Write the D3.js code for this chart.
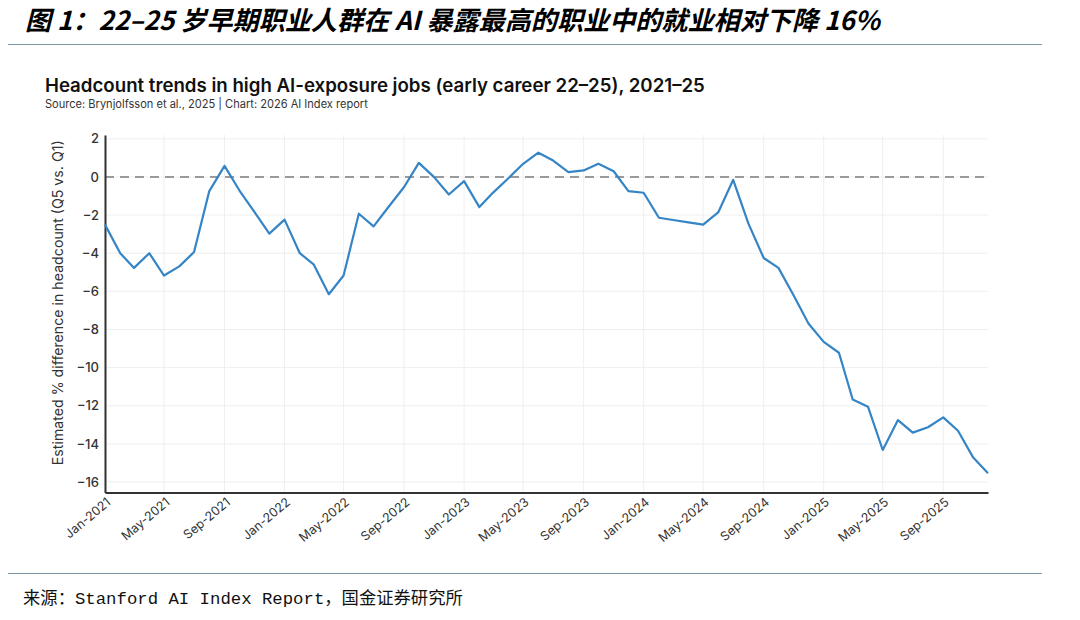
<!DOCTYPE html>
<html><head><meta charset="utf-8">
<script src="https://cdn.jsdelivr.net/npm/d3@7/dist/d3.min.js"></script>
<style>
html,body{margin:0;padding:0;background:#fff;}
svg{display:block;}
</style></head>
<body>
<svg id="chart" width="1080" height="620"></svg>
<script>
// ---- data ----
const figureTitle = "图 1：22–25 岁早期职业人群在 AI 暴露最高的职业中的就业相对下降 16%";
const chartTitle = "Headcount trends in high AI-exposure jobs (early career 22–25), 2021–25";
const chartSubtitle = "Source: Brynjolfsson et al., 2025 | Chart: 2026 AI Index report";
const yLabel = "Estimated % difference in headcount (Q5 vs. Q1)";
const footer = "来源：Stanford AI Index Report，国金证券研究所";
const months = d3.range(60).map(i => d3.timeMonth.offset(new Date(2021, 0, 1), i));
const values = [
  -2.5, -4.0, -4.77, -4.0, -5.17, -4.69, -3.94, -0.74, 0.58, -0.7, -1.85, -2.97,
  -2.24, -4.0, -4.58, -6.15, -5.17, -1.93, -2.59, -1.55, -0.53, 0.74, -0.01, -0.92,
  -0.22, -1.58, -0.82, -0.07, 0.69, 1.27, 0.86, 0.25, 0.34, 0.69, 0.30, -0.74,
  -0.83, -2.14, -2.26, -2.38, -2.5, -1.84, -0.15, -2.45, -4.25, -4.77, -6.22, -7.69,
  -8.65, -9.22, -11.67, -12.05, -14.32, -12.75, -13.41, -13.13, -12.61, -13.31, -14.72, -15.54
];
const yTicks = [2, 0, -2, -4, -6, -8, -10, -12, -14, -16];
const yDomain = [-16.55, 2.2];

// ---- drawing ----
const svg = d3.select("#chart");
const plot = {left: 105, right: 988, top: 135, bottom: 492.5};

function fitText(sel, target) {
  const n = sel.node();
  const fs = parseFloat(sel.attr("font-size"));
  const w = n.getComputedTextLength();
  if (w > 0) sel.attr("font-size", (fs * target / w).toFixed(2));
}

// figure title
const t1 = svg.append("text").attr("x", 25).attr("y", 30)
  .attr("font-family", "'Noto Sans CJK SC', sans-serif")
  .attr("font-weight", "bold").attr("font-style", "italic")
  .attr("font-size", 20).attr("fill", "#000").text(figureTitle);
fitText(t1, 855);

svg.append("line").attr("x1", 8).attr("x2", 1042).attr("y1", 44.5).attr("y2", 44.5)
  .attr("stroke", "#7d96a4").attr("stroke-width", 1.2);

// chart title
const t2 = svg.append("text").attr("x", 45).attr("y", 92)
  .attr("font-family", "Inter, 'Noto Sans', sans-serif")
  .attr("font-weight", 600).attr("font-size", 19).attr("fill", "#111").text(chartTitle);
fitText(t2, 660);
const t3 = svg.append("text").attr("x", 45).attr("y", 108)
  .attr("font-family", "Inter, 'Noto Sans', sans-serif")
  .attr("font-size", 11).attr("fill", "#333").text(chartSubtitle);
fitText(t3, 323);

const x = d3.scaleTime().domain([months[0], months[months.length - 1]]).range([plot.left, plot.right]);
const y = d3.scaleLinear().domain(yDomain).range([plot.bottom, plot.top]);

const xTicks = d3.timeMonth.every(4).range(months[0], d3.timeMonth.offset(months[months.length - 1], 1));

// grid
const g = svg.append("g");
g.selectAll(".hg").data(yTicks).join("line")
  .attr("x1", plot.left).attr("x2", plot.right)
  .attr("y1", d => y(d)).attr("y2", d => y(d))
  .attr("stroke", "#efefef").attr("stroke-width", 1);
g.selectAll(".vg").data(xTicks).join("line")
  .attr("x1", d => x(d)).attr("x2", d => x(d))
  .attr("y1", plot.top).attr("y2", plot.bottom)
  .attr("stroke", "#efefef").attr("stroke-width", 1);

// zero line
svg.append("line").attr("x1", plot.left).attr("x2", plot.right)
  .attr("y1", y(0)).attr("y2", y(0))
  .attr("stroke", "#9a9a9a").attr("stroke-width", 2).attr("stroke-dasharray", "9,6");

// y axis
const yAxis = svg.append("g").attr("transform", `translate(${plot.left},0)`)
  .call(d3.axisLeft(y).tickValues(yTicks).tickSize(0).tickPadding(6).tickFormat(d => d3.format("")(d).replace("-", "−")));
yAxis.select(".domain").attr("stroke", "#333").attr("stroke-width", 2);
yAxis.selectAll("text").attr("font-family", "Inter, 'Noto Sans', sans-serif")
  .attr("font-size", 13).attr("font-weight", 500).attr("fill", "#333");

// x axis
const xAxis = svg.append("g").attr("transform", `translate(0,${plot.bottom})`)
  .call(d3.axisBottom(x).tickValues(xTicks).tickSize(0).tickPadding(0).tickFormat(d3.timeFormat("%b-%Y")));
xAxis.select(".domain").attr("stroke", "#333").attr("stroke-width", 2);
xAxis.selectAll("text")
  .attr("font-family", "Inter, 'Noto Sans', sans-serif")
  .attr("font-size", 12.5).attr("fill", "#333")
  .attr("text-anchor", "end").attr("dy", 0).attr("y", 0)
  .attr("transform", "translate(6,11) rotate(-40)");

// y label
const yl = svg.append("text")
  .attr("transform", `translate(63,${(plot.top + plot.bottom) / 2 - 11}) rotate(-90)`)
  .attr("text-anchor", "middle")
  .attr("font-family", "Inter, 'Noto Sans', sans-serif")
  .attr("font-size", 13).attr("fill", "#333").text(yLabel);
fitText(yl, 325);

// line
const line = d3.line().x((d, i) => x(months[i])).y(d => y(d));
svg.append("path").datum(values).attr("d", line)
  .attr("fill", "none").attr("stroke", "#3585c6").attr("stroke-width", 2.2)
  .attr("stroke-linejoin", "round");

// footer
svg.append("line").attr("x1", 8).attr("x2", 1042).attr("y1", 573.5).attr("y2", 573.5)
  .attr("stroke", "#7d96a4").attr("stroke-width", 1.2);
const t4 = svg.append("text").attr("x", 23).attr("y", 604)
  .attr("font-family", "'Liberation Mono', 'Noto Sans CJK SC', monospace")
  .attr("font-size", 15).attr("fill", "#111").text(footer);
fitText(t4, 440);
</script>
</body></html>
